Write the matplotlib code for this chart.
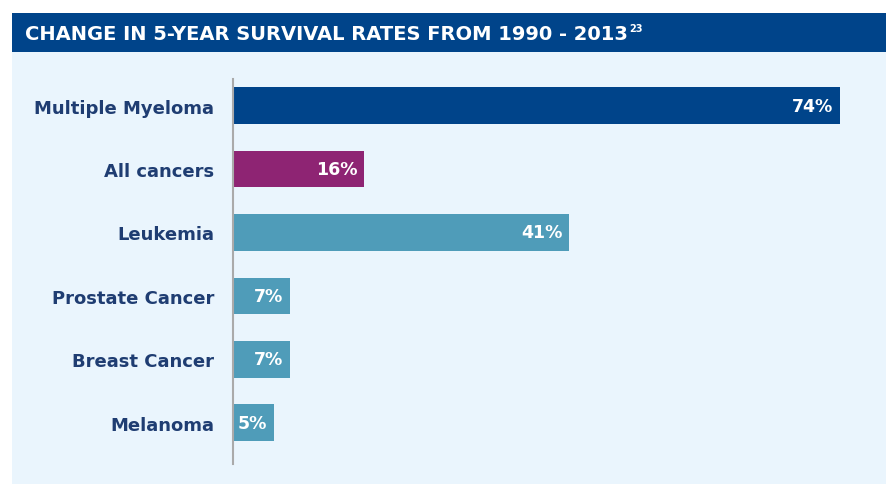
import numpy as np
import matplotlib.pyplot as plt
from matplotlib.patches import Rectangle

# data
cancers = ["Multiple Myeloma", "All cancers", "Leukemia",
           "Prostate Cancer", "Breast Cancer", "Melanoma"]
change = [74, 16, 41, 7, 7, 5]
colors = ["#00448A", "#8E2473", "#4F9CB9", "#4F9CB9", "#4F9CB9", "#4F9CB9"]

W, H = 886, 485
fig = plt.figure(figsize=(W / 100, H / 100), dpi=100)
fig.patch.set_facecolor("white")

# light panel and dark title band
fig.patches.append(Rectangle((12 / W, 0), 1, 1 - 53 / H, transform=fig.transFigure,
                             facecolor="#EAF5FD", edgecolor="none", zorder=-2))
fig.patches.append(Rectangle((12 / W, 1 - 53 / H), 1, 39 / H, transform=fig.transFigure,
                             facecolor="#00448A", edgecolor="none", zorder=-2))
t = fig.text(25 / W, 1 - 35 / H, "CHANGE IN 5-YEAR SURVIVAL RATES FROM 1990 - 2013",
             color="white", fontsize=14, fontweight="bold", va="center",
             family="DejaVu Sans")
fig.canvas.draw()
bb = t.get_window_extent()
fig.text(bb.x1 / W + 0.001, 1 - 29 / H, "23", color="white", fontsize=7,
         fontweight="bold", va="center", family="DejaVu Sans")

ax = fig.add_axes([233 / W, 1 - 465 / H, (W - 233) / W, 385 / H])
ax.set_zorder(2)
ax.set_facecolor("none")
y = np.arange(len(cancers))
ax.barh(y, change, height=0.58, color=colors)
ax.set_xlim(0, (W - 233) / 8.2)
ax.set_ylim(len(cancers) - 1 + 0.65, -0.42)

for yi, v in zip(y, change):
    ax.annotate(f"{v}%", (v, yi), xytext=(-5, 0), textcoords="offset points",
                ha="right", va="center", color="white", fontsize=12.5,
                fontweight="bold", family="DejaVu Sans")

ax.set_yticks(y)
ax.set_yticklabels(cancers, fontsize=13, fontweight="bold", color="#1F3D72",
                   family="DejaVu Sans")
ax.tick_params(axis="y", length=0, pad=13.5)
ax.set_xticks([])
for s in ["top", "right", "bottom"]:
    ax.spines[s].set_visible(False)
ax.spines["left"].set_color("#AAAAAA")
ax.spines["left"].set_linewidth(1.5)

plt.savefig("out.png", dpi=100)
